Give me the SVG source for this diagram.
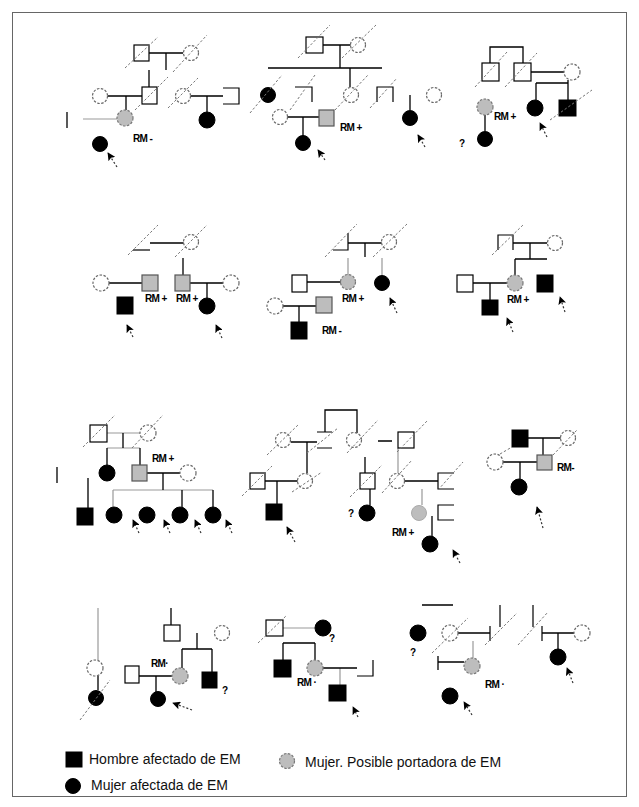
<svg xmlns="http://www.w3.org/2000/svg" width="639" height="807" viewBox="0 0 639 807">
<style>
.ln{stroke:#000;stroke-width:1.3;fill:none}
.lg{stroke:#999;stroke-width:1.2;fill:none}
.sl{stroke:#777;stroke-width:1;stroke-dasharray:2.5 2;fill:none}
.dc{fill:#fff;stroke:#666;stroke-width:1.2;stroke-dasharray:2.5 1.5}
.gc{fill:#bdbdbd;stroke:#777;stroke-width:1.2;stroke-dasharray:2.5 1.5}
.bc{fill:#000;stroke:#000;stroke-width:1}
.sq{fill:#fff;stroke:#000;stroke-width:1.2}
.gs{fill:#bdbdbd;stroke:#555;stroke-width:1.2}
.bs{fill:#000;stroke:#000;stroke-width:1}
.pt{fill:none;stroke:#000;stroke-width:1.2}
.ar{stroke:#333;stroke-width:1.2;stroke-dasharray:2 2;fill:none;marker-end:url(#ah)}
.t{font-family:"Liberation Sans",Arial,sans-serif;font-size:10px;font-weight:bold;fill:#000;letter-spacing:-0.6px}
.q{font-family:"Liberation Sans",Arial,sans-serif;font-size:10px;font-weight:bold;fill:#000}
.lt{font-family:"Liberation Sans",Arial,sans-serif;font-size:14px;fill:#111}
</style>
<defs>
<marker id="ah" viewBox="0 0 10 10" refX="9" refY="5" markerWidth="8" markerHeight="8" markerUnits="userSpaceOnUse" orient="auto">
<path d="M0,0 L10,5 L0,10 L2,5 Z" fill="#000"/>
</marker>
</defs>
<rect x="12.5" y="12.5" width="614" height="784" fill="#fff" stroke="#666" stroke-width="1"/>

<g id="connectors">
<path class="ln" d="M149,53H183M166,53V70M149,70V87M108,96H142M126,96V110M191,96H223M207,96V112"/>
<path class="lg" d="M83,119H117"/>
<path class="ln" d="M323,45H351M340,45V68M268,68H382M350,68V87M410,95V110M287,117H319M303,117V136"/>
<path class="ln" d="M490,63V47H523V63M531,72H564M536,83H568M536,83V100M568,80V100M485,115V131"/>
<path class="ln" d="M150,243H184M183,258V275M109,283H142M190,283H223M207,283V298"/>
<path class="ln" d="M348,243H382M365,243V257M307,282H341M283,306H316M299,306V322"/>
<path class="lg" d="M348,258V275M382,258V275"/>
<path class="ln" d="M513,243H547M530,243V259M515,259H547M515,259V275M473,283H507M490,283V300"/>
<path class="lg" d="M107,433H140M107,448H140M113,490H213M113,490V507"/>
<path class="ln" d="M123,433V448M107,448V465M140,448V465M147,473H180M163,473V490M182,490V507M213,490V507M88,478V508"/>
<path class="ln" d="M325,432V410H357V433M291,442H317M307,442V473M378,441H392M265,481H298M277,481V504M365,457V473M370,489V505M404,481H438M432,516V537"/>
<path class="lg" d="M398,448V473M422,489V505"/>
<path class="ln" d="M528,438H561M543,438V455M503,462H537M520,462V479"/>
<path class="lg" d="M98,608V660"/>
<path class="ln" d="M98,676V690M139,676H172M156,676V692M171,608V625M197,633V649M182,649H212M182,649V668M212,649V672"/>
<path class="lg" d="M283,628H315M340,668V685"/>
<path class="ln" d="M283,643H315M283,643V660M315,643V660M323,668H357"/>
<path class="ln" d="M422,605H453M458,633H490M542,633H574M558,633V649M438,662H464"/>
<path class="lg" d="M473,641V658"/>
<path class="ar" d="M117,167L108,153"/>
<path class="ar" d="M425,147L418,135"/>
<path class="ar" d="M325,160L318,150"/>
<path class="ar" d="M547,137L540,123"/>
<path class="ar" d="M133,337L127,325"/>
<path class="ar" d="M222,338L216,325"/>
<path class="ar" d="M397,313L390,298"/>
<path class="ar" d="M513,332L507,318"/>
<path class="ar" d="M565,312L560,297"/>
<path class="ar" d="M139,533L133,520"/>
<path class="ar" d="M170,533L164,520"/>
<path class="ar" d="M201,533L195,520"/>
<path class="ar" d="M232,533L226,520"/>
<path class="ar" d="M295,542L287,527"/>
<path class="ar" d="M460,563L453,550"/>
<path class="ar" d="M543,528L537,507"/>
<path class="ar" d="M192,710L173,703"/>
<path class="ar" d="M358,717L353,707"/>
<path class="ar" d="M573,683L567,668"/>
<path class="ar" d="M472,715L464,702"/>
</g>

<g id="A1"><rect class="sq" x="134" y="45" width="15" height="16"/><path class="sl" d="M125,68L158,37"/></g>
<g id="A2"><circle class="dc" cx="191" cy="53" r="7.5"/><path class="sl" d="M173,72L207,35"/></g>
<g id="A3"><rect class="sq" x="142" y="87" width="15" height="17"/><path class="sl" d="M135,110L168,77"/></g>
<g id="A4"><circle class="dc" cx="100" cy="96" r="7.5"/></g>
<g id="A5"><circle class="gc" cx="125" cy="118" r="8"/><text class="t" x="133" y="142">RM -</text></g>
<g id="A6"><path class="ln" d="M67,112V128"/></g>
<g id="A7"><circle class="bc" cx="100" cy="144" r="7.5"/></g>
<g id="A8"><circle class="dc" cx="183" cy="96" r="7.5"/><path class="sl" d="M168,108L198,78"/></g>
<g id="A9"><path class="pt" d="M223,88H239V104H223"/></g>
<g id="A10"><circle class="bc" cx="207" cy="120" r="8"/></g>

<g id="B1"><rect class="sq" x="306" y="37" width="17" height="16"/><path class="sl" d="M298,58L330,25"/></g>
<g id="B2"><circle class="dc" cx="358" cy="45" r="7.5"/><path class="sl" d="M342,58L376,25"/></g>
<g id="B3"><circle class="bc" cx="268" cy="95" r="7.5"/><path class="sl" d="M250,113L282,75"/></g>
<g id="B4"><path class="pt" d="M295,87H312V102"/><path class="sl" d="M290,110L315,75"/></g>
<g id="B5"><circle class="dc" cx="351" cy="95" r="7.5"/><path class="sl" d="M335,110L368,75"/></g>
<g id="B6"><path class="pt" d="M377,102V87H393V102"/><path class="sl" d="M370,108L397,78"/></g>
<g id="B7"><circle class="bc" cx="410" cy="118" r="7.5"/></g>
<g id="B8"><circle class="dc" cx="434" cy="95" r="7.5"/></g>
<g id="B9"><circle class="dc" cx="280" cy="117" r="7.5"/></g>
<g id="B10"><rect class="gs" x="319" y="110" width="15" height="16"/><text class="t" x="340" y="131">RM +</text></g>
<g id="B11"><circle class="bc" cx="303" cy="143" r="7.5"/></g>

<g id="C1"><rect class="sq" x="482" y="63" width="17" height="18"/><path class="sl" d="M475,87L507,52"/></g>
<g id="C2"><rect class="sq" x="514" y="63" width="17" height="18"/><path class="sl" d="M505,87L537,53"/></g>
<g id="C3"><circle class="dc" cx="572" cy="72" r="8"/></g>
<g id="C4"><circle class="bc" cx="535" cy="108" r="8"/></g>
<g id="C5"><rect class="bs" x="559" y="100" width="17" height="16"/><path class="sl" d="M550,120L592,90"/></g>
<g id="C6"><circle class="gc" cx="485" cy="107" r="8"/><text class="t" x="494" y="120">RM +</text></g>
<g id="C7"><circle class="bc" cx="485" cy="139" r="7.5"/><text class="q" x="459" y="147">?</text></g>

<g id="D1"><path class="pt" d="M133,250H150"/><path class="sl" d="M128,255L158,225"/></g>
<g id="D2"><circle class="dc" cx="191" cy="242" r="7.5"/><path class="sl" d="M175,257L207,225"/></g>
<g id="D3"><rect class="gs" x="175" y="275" width="15" height="16"/><text class="t" x="176" y="302">RM +</text></g>
<g id="D4"><rect class="gs" x="142" y="275" width="16" height="16"/><text class="t" x="145" y="302">RM +</text></g>
<g id="D5"><circle class="dc" cx="101" cy="283" r="8"/></g>
<g id="D6"><circle class="dc" cx="231" cy="283" r="8"/></g>
<g id="D7"><circle class="bc" cx="207" cy="306" r="8"/></g>
<g id="D8"><rect class="bs" x="117" y="297" width="16" height="17"/></g>

<g id="E1"><path class="pt" d="M333,250H348V233"/><path class="sl" d="M325,257L357,224"/></g>
<g id="E2"><circle class="dc" cx="389" cy="242" r="7.5"/><path class="sl" d="M373,257L407,224"/></g>
<g id="E3"><circle class="gc" cx="348" cy="282" r="7.5"/><text class="t" x="342" y="302">RM +</text></g>
<g id="E4"><rect class="sq" x="292" y="275" width="15" height="17"/></g>
<g id="E5"><circle class="bc" cx="382" cy="283" r="7.5"/></g>
<g id="E6"><circle class="dc" cx="275" cy="306" r="8"/></g>
<g id="E7"><rect class="gs" x="316" y="297" width="16" height="16"/></g>
<g id="E8"><rect class="bs" x="291" y="322" width="16" height="17"/><text class="t" x="322" y="334">RM -</text></g>

<g id="F1"><path class="pt" d="M498,250V235H513V250"/><path class="sl" d="M492,255L523,225"/></g>
<g id="F2"><circle class="dc" cx="555" cy="243" r="7.5"/></g>
<g id="F3"><circle class="gc" cx="515" cy="283" r="8"/><text class="t" x="507" y="303">RM +</text></g>
<g id="F4"><rect class="sq" x="457" y="275" width="16" height="17"/></g>
<g id="F5"><rect class="bs" x="482" y="300" width="16" height="15"/></g>
<g id="F6"><rect class="bs" x="537" y="275" width="16" height="17"/></g>

<g id="G1"><rect class="sq" x="90" y="425" width="17" height="17"/><path class="sl" d="M83,447L115,415"/></g>
<g id="G2"><circle class="dc" cx="148" cy="433" r="8"/><path class="sl" d="M132,448L163,415"/></g>
<g id="G3"><circle class="bc" cx="107" cy="473" r="8"/></g>
<g id="G4"><rect class="gs" x="132" y="465" width="15" height="16"/><text class="t" x="152" y="462">RM +</text></g>
<g id="G5"><circle class="dc" cx="188" cy="473" r="8"/></g>
<g id="G6"><circle class="bc" cx="114" cy="515" r="8"/></g>
<g id="G7"><circle class="bc" cx="147" cy="515" r="8"/></g>
<g id="G8"><circle class="bc" cx="180" cy="515" r="8"/></g>
<g id="G9"><circle class="bc" cx="213" cy="515" r="8"/></g>
<g id="G10"><rect class="bs" x="77" y="508" width="16" height="17"/></g>
<g id="G11"><path class="ln" d="M57,467V483"/></g>

<g id="H1"><circle class="dc" cx="283" cy="440" r="7.5"/><path class="sl" d="M267,455L298,425"/></g>
<g id="H2"><path class="pt" d="M317,432H332M317,448H332"/><path class="sl" d="M307,453L338,428"/></g>
<g id="H3"><circle class="dc" cx="354" cy="440" r="7.5"/><path class="sl" d="M347,453L378,420"/></g>
<g id="H4"><rect class="sq" x="398" y="432" width="16" height="16"/><path class="sl" d="M397,452L428,420"/></g>
<g id="H5"><circle class="dc" cx="305" cy="481" r="7.5"/><path class="sl" d="M292,492L322,472"/></g>
<g id="H6"><rect class="sq" x="250" y="473" width="15" height="16"/><path class="sl" d="M242,496L272,466"/></g>
<g id="H7"><rect class="bs" x="266" y="504" width="16" height="16"/></g>
<g id="H8"><rect class="sq" x="360" y="473" width="15" height="16"/><path class="sl" d="M350,497L382,465"/></g>
<g id="H9"><circle class="bc" cx="367" cy="513" r="8"/><text class="q" x="348" y="517">?</text></g>
<g id="H10"><circle class="dc" cx="397" cy="481" r="7.5"/><path class="sl" d="M382,493L412,460"/></g>
<g id="H11"><path class="pt" d="M454,473H438V489H454"/><path class="sl" d="M438,490L463,462"/></g>
<g id="H12"><circle cx="419" cy="513" r="7.5" fill="#bdbdbd" stroke="#aaa"/></g>
<g id="H13"><path class="pt" d="M454,505H438V520H454"/></g>
<g id="H14"><circle class="bc" cx="430" cy="544" r="8"/><text class="t" x="392" y="536">RM +</text></g>

<g id="I1"><rect class="bs" x="512" y="430" width="16" height="17"/><path class="sl" d="M500,454L512,447"/></g>
<g id="I2"><circle class="dc" cx="568" cy="438" r="7.5"/><path class="sl" d="M553,455L577,430"/></g>
<g id="I3"><rect class="gs" x="537" y="455" width="15" height="15"/><text class="t" x="557" y="471">RM-</text></g>
<g id="I4"><circle class="dc" cx="495" cy="462" r="8"/></g>
<g id="I5"><circle class="bc" cx="519" cy="487" r="8"/></g>

<g id="J1"><circle class="dc" cx="95" cy="668" r="8"/></g>
<g id="J2"><circle class="bc" cx="96" cy="698" r="7.5"/><path class="sl" d="M80,720L110,680"/></g>
<g id="J3"><rect class="sq" x="125" y="666" width="14" height="17"/></g>
<g id="J4"><circle class="bc" cx="158" cy="699" r="7.5"/></g>
<g id="J5"><circle class="gc" cx="180" cy="676" r="8"/><text class="t" x="151" y="667">RM·</text></g>
<g id="J6"><rect class="sq" x="164" y="625" width="16" height="16"/></g>
<g id="J7"><circle class="dc" cx="222" cy="633" r="7.5"/></g>
<g id="J8"><rect class="bs" x="202" y="672" width="15" height="16"/><text class="q" x="222" y="694">?</text></g>

<g id="K1"><rect class="sq" x="266" y="620" width="17" height="16"/><path class="sl" d="M258,643L287,615"/></g>
<g id="K2"><circle class="bc" cx="323" cy="628" r="8"/><text class="q" x="329" y="642">?</text></g>
<g id="K3"><rect class="bs" x="274" y="660" width="17" height="17"/></g>
<g id="K4"><circle class="gc" cx="315" cy="668" r="8"/><text class="t" x="297" y="686">RM ·</text></g>
<g id="K5"><path class="pt" d="M373,660V676H357"/></g>
<g id="K6"><rect class="bs" x="329" y="685" width="17" height="16"/></g>

<g id="L1"><circle class="bc" cx="418" cy="633" r="8"/><text class="q" x="410" y="656">?</text></g>
<g id="L2"><circle class="dc" cx="450" cy="633" r="8"/><path class="sl" d="M432,653L468,618"/></g>
<g id="L3"><path class="pt" d="M490,626V641M500,605V627"/><path class="sl" d="M485,645L517,613"/></g>
<g id="L4"><path class="pt" d="M533,605V627M542,626V641"/><path class="sl" d="M518,645L548,612"/></g>
<g id="L5"><circle class="dc" cx="582" cy="633" r="8"/></g>
<g id="L6"><circle class="bc" cx="558" cy="657" r="8"/></g>
<g id="L7"><circle class="gc" cx="472" cy="666" r="8"/><text class="t" x="485" y="688">RM ·</text></g>
<g id="L8"><path class="ln" d="M438,656V670"/></g>
<g id="L9"><circle class="bc" cx="450" cy="696" r="8"/></g>

<g id="legend">
<rect class="bs" x="66" y="752" width="16" height="15"/>
<text class="lt" x="89" y="764">Hombre afectado de EM</text>
<circle class="bc" cx="73" cy="786" r="7.5"/>
<text class="lt" x="91" y="790">Mujer afectada de EM</text>
<circle class="gc" cx="287" cy="761" r="7.5"/>
<text class="lt" x="305" y="767">Mujer. Posible portadora de EM</text>
</g>
</svg>
